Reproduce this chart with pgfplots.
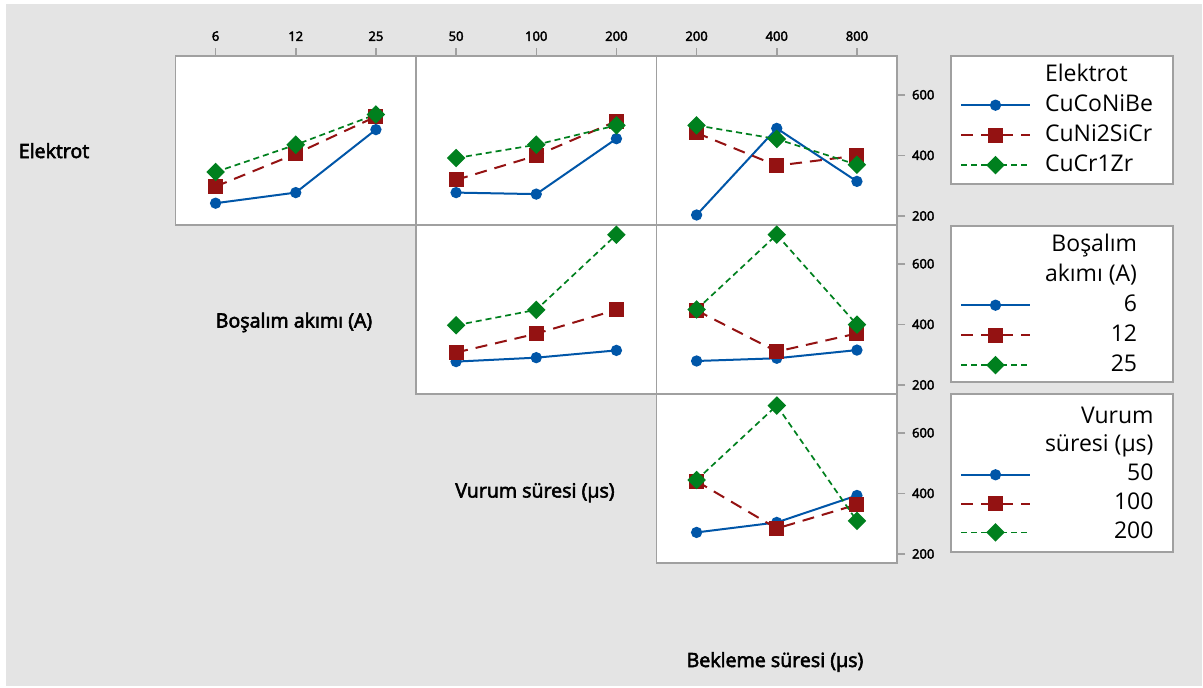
\documentclass[border=0pt]{standalone}
\usepackage{fontspec}
\setmainfont{Open Sans}
\newfontfamily\sbfont{Open Sans}[RawFeature={embolden=3}]
\usepackage{pgfplots}
\pgfplotsset{compat=1.18}
\definecolor{bgc}{RGB}{228,228,228}
\definecolor{frc}{RGB}{160,160,160}
\definecolor{cb}{RGB}{0,86,168}
\definecolor{cr}{RGB}{148,18,18}
\definecolor{cg}{RGB}{0,128,30}
\pgfplotsset{
  panel/.style={scale only axis, width=120.25pt, height=84.5pt,
    ymin=170, ymax=728, xmin=-0.5, xmax=2.5,
    axis line style={frc, line width=0.75pt},
    axis background/.style={fill=white},
    xtick=\empty, ytick=\empty,
    tick style={frc, line width=0.75pt}, major tick length=4pt, tick align=outside,
    tick label style={font=\sbfont\fontsize{6.5}{7}\selectfont, text=black},
    /pgf/number format/assume math mode=true},
  sb/.style={cb, line width=1pt, mark=*, mark size=2.3pt, mark options={solid}},
  sr/.style={cr, line width=1pt, dash pattern=on 6pt off 4pt, mark=square*, mark size=3.25pt, mark options={solid}},
  sg/.style={cg, line width=0.85pt, dash pattern=on 3pt off 2pt, mark=square*, mark size=2.85pt, mark options={solid, rotate=45}},
  toprow/.style={xtick={0,1,2}, xtick pos=right, xticklabel pos=right},
  rightcol/.style={ytick={200,400,600}, yticklabels={200,400,600}, ytick pos=right, yticklabel pos=right},
  leg/.style={legend image code/.code={\draw[mark repeat=2,mark phase=2] plot coordinates {(0pt,0pt) (17.25pt,0pt) (34.5pt,0pt)};},
    legend style={draw=none, fill=none, inner sep=0pt, outer sep=0pt, anchor=north west, column sep=7pt, row sep=4pt,
      font=\fontsize{11.5}{13}\selectfont, nodes={inner sep=0pt, text height=8.5pt, text depth=2.5pt}}},
}
\begin{document}
\begin{tikzpicture}
\fill[white] (0,0) rectangle (601.5pt,-343.5pt);
\fill[bgc] (3pt,-2pt) rectangle (601pt,-343pt);
\draw[frc, line width=0.75pt, fill=white] (475.5pt,-28pt) rectangle (586.5pt,-92pt);
\draw[frc, line width=0.75pt, fill=white] (475.5pt,-113pt) rectangle (586.5pt,-191pt);
\draw[frc, line width=0.75pt, fill=white] (475.5pt,-197pt) rectangle (586.5pt,-276pt);

\node[font=\sbfont\fontsize{9.8}{11}\selectfont, anchor=base] at (27pt,-79pt) {Elektrot};
\node[font=\sbfont\fontsize{9.8}{11}\selectfont, anchor=base] at (147pt,-163.75pt) {Boşalım akımı (A)};
\node[font=\sbfont\fontsize{9.8}{11}\selectfont, anchor=base] at (267.5pt,-248.75pt) {Vurum süresi (µs)};
\node[font=\sbfont\fontsize{9.8}{11}\selectfont, anchor=base] at (387.5pt,-333.5pt) {Bekleme süresi (µs)};

% Row 1, col 1: Elektrot vs Bosalim akimi
\begin{axis}[panel, toprow, xticklabels={6,12,25}, at={(87.75pt,-28pt)}, anchor=north west]
\addplot[sb] coordinates {(0,242) (1,277) (2,485)};
\addplot[sr] coordinates {(0,297) (1,405) (2,528)};
\addplot[sg] coordinates {(0,345) (1,435) (2,535)};
\end{axis}
% Row 1, col 2: Elektrot vs Vurum suresi
\begin{axis}[panel, toprow, xticklabels={50,100,200}, at={(208pt,-28pt)}, anchor=north west]
\addplot[sb] coordinates {(0,277) (1,272) (2,455)};
\addplot[sr] coordinates {(0,319) (1,399) (2,513)};
\addplot[sg] coordinates {(0,391) (1,435) (2,499)};
\end{axis}
% Row 1, col 3: Elektrot vs Bekleme suresi
\begin{axis}[panel, toprow, rightcol, leg, xticklabels={200,400,800}, at={(328.25pt,-28pt)}, anchor=north west,
  legend style={at={(1.262,0.9515)}}, legend cell align=left]
\addlegendimage{empty legend}\addlegendentry{Elektrot}
\addplot[sb] coordinates {(0,203) (1,489) (2,314)};\addlegendentry{CuCoNiBe}
\addplot[sr] coordinates {(0,474) (1,366) (2,399)};\addlegendentry{CuNi2SiCr}
\addplot[sg] coordinates {(0,499) (1,454) (2,369)};\addlegendentry{CuCr1Zr}
\end{axis}
% Row 2, col 2: Bosalim vs Vurum
\begin{axis}[panel, at={(208pt,-112.5pt)}, anchor=north west]
\addplot[sb] coordinates {(0,277) (1,290) (2,314)};
\addplot[sr] coordinates {(0,307) (1,369) (2,448)};
\addplot[sg] coordinates {(0,397) (1,448) (2,696)};
\end{axis}
% Row 2, col 3: Bosalim vs Bekleme
\begin{axis}[panel, rightcol, leg, at={(328.25pt,-112.5pt)}, anchor=north west,
  legend style={at={(1.262,0.9456)}}, legend cell align=right]
\addlegendimage{empty legend}\addlegendentry{Boşalım}
\addlegendimage{empty legend}\addlegendentry{akımı (A)}
\addplot[sb] coordinates {(0,279) (1,288) (2,315)};\addlegendentry{6}
\addplot[sr] coordinates {(0,446) (1,310) (2,370)};\addlegendentry{12}
\addplot[sg] coordinates {(0,449) (1,696) (2,399)};\addlegendentry{25}
\end{axis}
% Row 3, col 3: Vurum vs Bekleme
\begin{axis}[panel, rightcol, leg, at={(328.25pt,-197pt)}, anchor=north west,
  legend style={at={(1.262,0.928)}, row sep=3.4pt}, legend cell align=right]
\addlegendimage{empty legend}\addlegendentry{Vurum}
\addlegendimage{empty legend}\addlegendentry{süresi (µs)}
\addplot[sb] coordinates {(0,271) (1,304) (2,393)};\addlegendentry{50}
\addplot[sr] coordinates {(0,440) (1,284) (2,363)};\addlegendentry{100}
\addplot[sg] coordinates {(0,444) (1,690) (2,309)};\addlegendentry{200}
\end{axis}
\pgfresetboundingbox
\path[use as bounding box] (0,0) rectangle (601.5pt,-343.5pt);
\end{tikzpicture}
\end{document}
